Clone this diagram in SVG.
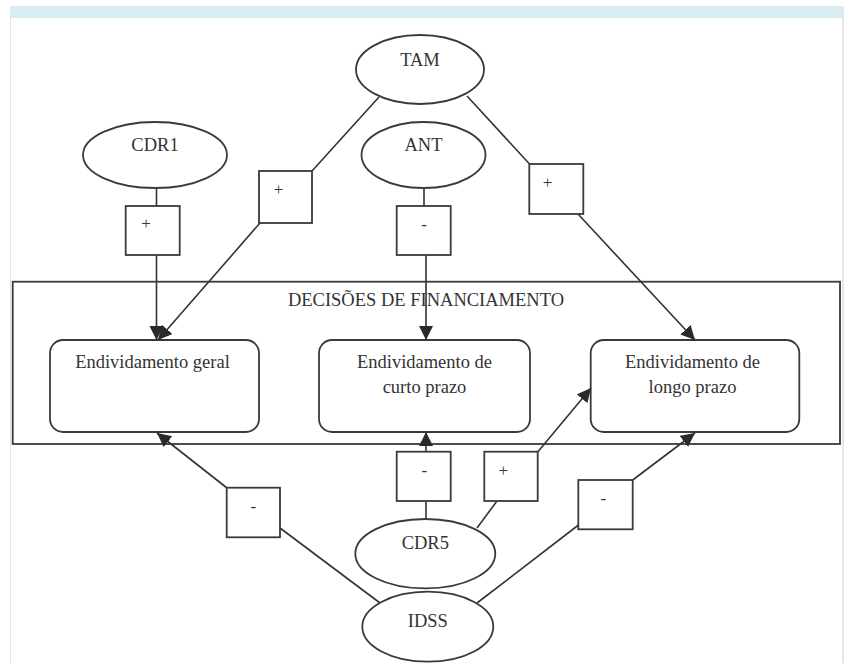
<svg xmlns="http://www.w3.org/2000/svg" width="844" height="663" viewBox="0 0 844 663">
<style>
.t{font-family:"Liberation Serif","Times New Roman",serif;font-size:18.5px;fill:#333;text-anchor:middle}
.s{font-family:"Liberation Serif","Times New Roman",serif;font-size:17px;fill:#333;text-anchor:middle}
.n{fill:#fff;stroke:#3a3a3a;stroke-width:1.8}
.c line{stroke:#333;stroke-width:1.6}
</style>
<defs>
<marker id="arr" markerUnits="userSpaceOnUse" markerWidth="15" markerHeight="15" refX="14" refY="7" orient="auto">
<path d="M0,0 L14,7 L0,14 z" fill="#2a2a2a"/>
</marker>
</defs>
<rect x="0" y="0" width="844" height="663" fill="#fff"/>
<rect x="10" y="6" width="834" height="12" fill="#d9ecf2"/>
<line x1="10.5" y1="18" x2="10.5" y2="663" stroke="#e2e2e2" stroke-width="1"/>
<line x1="843" y1="18" x2="843" y2="663" stroke="#cfcfcf" stroke-width="1"/>

<g id="decisoes">
<rect class="n" x="12.7" y="281.7" width="827.3" height="162.3" fill="none"/>
<text class="t" x="426" y="305.5">DECISÕES DE FINANCIAMENTO</text>
</g>

<g id="geral">
<rect class="n" x="50" y="340" width="209" height="92" rx="13"/>
<text class="t" x="152.5" y="368">Endividamento geral</text>
</g>
<g id="curto">
<rect class="n" x="319" y="340" width="211" height="92" rx="13"/>
<text class="t" x="424.5" y="368">Endividamento de</text>
<text class="t" x="424.5" y="393">curto prazo</text>
</g>
<g id="longo">
<rect class="n" x="590.7" y="340" width="208.6" height="92" rx="13"/>
<text class="t" x="692.5" y="368">Endividamento de</text>
<text class="t" x="692.5" y="393">longo prazo</text>
</g>

<g id="connectors" class="c">
<line x1="156.5" y1="188.5" x2="156.5" y2="206"/>
<line x1="156.5" y1="255" x2="156.5" y2="340" marker-end="url(#arr)"/>
<line x1="379" y1="97" x2="312" y2="171"/>
<line x1="260" y1="223" x2="158" y2="340" marker-end="url(#arr)"/>
<line x1="424" y1="188" x2="424" y2="206"/>
<line x1="426" y1="255" x2="426" y2="340" marker-end="url(#arr)"/>
<line x1="467" y1="96" x2="529.5" y2="164"/>
<line x1="578" y1="214" x2="695" y2="340" marker-end="url(#arr)"/>
<line x1="380" y1="603" x2="280" y2="528"/>
<line x1="227" y1="488" x2="157" y2="433" marker-end="url(#arr)"/>
<line x1="426" y1="519" x2="426" y2="501"/>
<line x1="426" y1="452" x2="426" y2="432" marker-end="url(#arr)"/>
<line x1="477" y1="528" x2="497" y2="501"/>
<line x1="537.7" y1="452" x2="591" y2="388" marker-end="url(#arr)"/>
<line x1="477" y1="603" x2="578.5" y2="525"/>
<line x1="632.7" y1="480" x2="695" y2="433" marker-end="url(#arr)"/>
</g>

<g id="TAM">
<ellipse class="n" cx="420" cy="69.5" rx="64" ry="34.5"/>
<text class="t" x="420" y="66">TAM</text>
</g>
<g id="CDR1">
<ellipse class="n" cx="155" cy="155" rx="72" ry="33"/>
<text class="t" x="155" y="151">CDR1</text>
</g>
<g id="ANT">
<ellipse class="n" cx="423.5" cy="155" rx="62" ry="33"/>
<text class="t" x="423.5" y="151">ANT</text>
</g>
<g id="CDR5">
<ellipse class="n" cx="425.3" cy="553.7" rx="70" ry="34.7"/>
<text class="t" x="425.3" y="548.5">CDR5</text>
</g>
<g id="IDSS">
<ellipse class="n" cx="427.8" cy="626.7" rx="65.5" ry="35"/>
<text class="t" x="427.8" y="627">IDSS</text>
</g>

<g id="sign-cdr1">
<rect class="n" x="125.7" y="206" width="54" height="49"/>
<text class="s" x="146" y="229">+</text>
</g>
<g id="sign-tam-geral">
<rect class="n" x="259" y="171" width="53" height="52"/>
<text class="s" x="278.5" y="195">+</text>
</g>
<g id="sign-ant">
<rect class="n" x="396.7" y="206" width="54" height="49"/>
<text class="s" x="424" y="230">-</text>
</g>
<g id="sign-tam-longo">
<rect class="n" x="529.3" y="164" width="54" height="50"/>
<text class="s" x="547.5" y="188">+</text>
</g>
<g id="sign-idss-geral">
<rect class="n" x="226.7" y="487.7" width="53.3" height="49.6"/>
<text class="s" x="253.3" y="512">-</text>
</g>
<g id="sign-cdr5-curto">
<rect class="n" x="396.7" y="451.7" width="54" height="49.3"/>
<text class="s" x="424.3" y="475.5">-</text>
</g>
<g id="sign-cdr5-longo">
<rect class="n" x="484.3" y="451.7" width="53.4" height="49.3"/>
<text class="s" x="503.3" y="476">+</text>
</g>
<g id="sign-idss-longo">
<rect class="n" x="578.3" y="480" width="54.4" height="49.3"/>
<text class="s" x="603.3" y="504">-</text>
</g>
</svg>
